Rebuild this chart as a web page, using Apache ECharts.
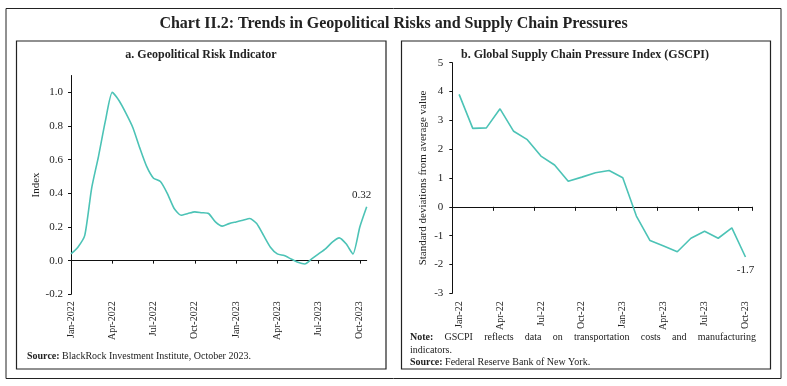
<!DOCTYPE html>
<html>
<head>
<meta charset="utf-8">
<script src="https://cdn.jsdelivr.net/npm/echarts@6/dist/echarts.min.js"></script>
<style>html,body{margin:0;padding:0;background:#fff;}#c{width:787px;height:386px;}</style>
</head>
<body>
<div id="c"></div>
<script>
// ---- Data ----
const chartTitle = 'Chart II.2: Trends in Geopolitical Risks and Supply Chain Pressures';
const titleA = 'a. Geopolitical Risk Indicator';
const titleB = 'b. Global Supply Chain Pressure Index (GSCPI)';

// Panel a: semi-monthly observations, Jan 2022 - mid Oct 2023
const griDates = [
  '2022-01-01','2022-01-16','2022-02-01','2022-02-16','2022-03-01','2022-03-16',
  '2022-04-01','2022-04-16','2022-05-01','2022-05-16','2022-06-01','2022-06-16',
  '2022-07-01','2022-07-16','2022-08-01','2022-08-16','2022-09-01','2022-09-16',
  '2022-10-01','2022-10-16','2022-11-01','2022-11-16','2022-12-01','2022-12-16',
  '2023-01-01','2023-01-16','2023-02-01','2023-02-16','2023-03-01','2023-03-16',
  '2023-04-01','2023-04-16','2023-05-01','2023-05-16','2023-06-01','2023-06-16',
  '2023-07-01','2023-07-16','2023-08-01','2023-08-16','2023-09-01','2023-09-16',
  '2023-10-01','2023-10-16'
];
const griValues = [
  0.04, 0.08, 0.15, 0.43, 0.62, 0.83,
  1.00, 0.95, 0.875, 0.79, 0.67, 0.56,
  0.49, 0.47, 0.40, 0.31, 0.27, 0.28,
  0.29, 0.285, 0.28, 0.23, 0.205, 0.22,
  0.23, 0.24, 0.25, 0.22, 0.15, 0.08,
  0.04, 0.03, 0.01, -0.01, -0.02, 0.01,
  0.04, 0.07, 0.11, 0.135, 0.10, 0.04,
  0.20, 0.32
];
const griTicks = [-0.2, 0.0, 0.2, 0.4, 0.6, 0.8, 1.0];

// Panel b: monthly GSCPI
const gscpiMonths = ['Jan-22','Feb-22','Mar-22','Apr-22','May-22','Jun-22','Jul-22','Aug-22','Sep-22','Oct-22','Nov-22','Dec-22',
  'Jan-23','Feb-23','Mar-23','Apr-23','May-23','Jun-23','Jul-23','Aug-23','Sep-23','Oct-23'];
const gscpiValues = [3.9, 2.72, 2.74, 3.40, 2.62, 2.33, 1.76, 1.45, 0.89, 1.03, 1.18, 1.26,
  1.01, -0.32, -1.17, -1.36, -1.56, -1.09, -0.85, -1.09, -0.73, -1.74];
const gscpiTicks = [-3, -2, -1, 0, 1, 2, 3, 4, 5];

const sourceA = 'BlackRock Investment Institute, October 2023.';
const noteB = 'GSCPI reflects data on transportation costs and manufacturing indicators.';
const sourceB = 'Federal Reserve Bank of New York.';

// ---- Styles ----
const FONT = 'Liberation Serif';
const LINE = '#4cc3b6';
const TXT = '#222';
const monthNames = ['Jan','Feb','Mar','Apr','May','Jun','Jul','Aug','Sep','Oct','Nov','Dec'];
function fmtDate(s){ const p = s.split('-'); return monthNames[+p[1]-1] + '-' + p[0]; }

const chart = echarts.init(document.getElementById('c'), null, {renderer:'canvas'});

// justified note line
const mctx = document.createElement('canvas').getContext('2d');
function measure(t, weight, size){ mctx.font = weight + ' ' + size + 'px "' + FONT + '"'; return mctx.measureText(t).width; }
const noteWords = ['Note:'].concat(noteB.split(' '));
const line1 = noteWords.slice(0, noteWords.length - 1);
const line2 = noteWords[noteWords.length - 1];
const nx0 = 410, nx1 = 756, nSize = 10;
const widths = line1.map((w,i)=>measure(w, i===0?'bold':'normal', nSize));
const sumW = widths.reduce((a,b)=>a+b,0);
const gap = (nx1 - nx0 - sumW) / (line1.length - 1);
const noteEls = [];
let cx = nx0;
line1.forEach((w,i)=>{
  noteEls.push({type:'text', left: cx, top: 332.5, style:{text:w, font:(i===0?'bold ':'')+nSize+'px "'+FONT+'"', fill:TXT}});
  cx += widths[i] + gap;
});
noteEls.push({type:'text', left: nx0, top: 345, style:{text:line2, font:nSize+'px "'+FONT+'"', fill:TXT}});

const axisLbl = {fontFamily: FONT, fontSize: 11, color: TXT};
const xLbl = {fontFamily: FONT, fontSize: 10, color: TXT};

const option = {
  animation: false,
  backgroundColor: '#fff',
  textStyle: {fontFamily: FONT},
  title: [
    {text: chartTitle, left: 'center', top: 11, textStyle:{fontFamily:FONT, fontSize:16, fontWeight:'bold', color:TXT}},
    {text: titleA, left: 201, top: 49, padding:0, textAlign:'center', textStyle:{fontFamily:FONT, fontSize:12, fontWeight:'bold', color:TXT}},
    {text: titleB, left: 585, top: 49, padding:0, textAlign:'center', textStyle:{fontFamily:FONT, fontSize:12, fontWeight:'bold', color:TXT}}
  ],
  graphic: [
    {type:'rect', shape:{x:6, y:8.5, width:775, height:370}, style:{fill:'none', stroke:'#222', lineWidth:1}, silent:true},
    {type:'rect', shape:{x:16.5, y:41, width:369.5, height:328}, style:{fill:'none', stroke:'#222', lineWidth:1.2}, silent:true},
    {type:'rect', shape:{x:401.5, y:41, width:369, height:328}, style:{fill:'none', stroke:'#222', lineWidth:1.2}, silent:true},
    {type:'text', left: 27, top: 351, style:{text:'{b|Source:} ' + sourceA, font:'10px "'+FONT+'"', fill:TXT,
      rich:{b:{fontWeight:'bold', fontFamily:FONT, fontSize:10, fill:TXT}}}},
    {type:'text', left: nx0, top: 357.5, style:{text:'{b|Source:} ' + sourceB, font:'10px "'+FONT+'"', fill:TXT,
      rich:{b:{fontWeight:'bold', fontFamily:FONT, fontSize:10, fill:TXT}}}}
  ].concat(noteEls),
  grid: [
    {left: 71, right: 787-366.7, top: 75.5, bottom: 386-294.3},
    {left: 452.3, right: 787-752.3, top: 62.7, bottom: 386-293.3}
  ],
  xAxis: [
    {gridIndex:0, type:'category', data: griDates, boundaryGap:false,
      axisLine:{onZero:true, lineStyle:{color:'#111', width:1}},
      axisTick:{show:true, interval:5, length:3, lineStyle:{color:'#111'}},
      axisLabel:{show:false}, splitLine:{show:false}},
    {gridIndex:0, type:'category', data: griDates, boundaryGap:false, position:'bottom',
      axisLine:{show:false, onZero:false}, axisTick:{show:false},
      axisLabel:Object.assign({interval:5, rotate:90, margin:7, formatter: fmtDate}, xLbl), splitLine:{show:false}},
    {gridIndex:1, type:'category', data: gscpiMonths, boundaryGap:true,
      axisLine:{onZero:true, lineStyle:{color:'#111', width:1}},
      axisTick:{show:true, interval:2, length:4, lineStyle:{color:'#111'}},
      axisLabel:{show:false}, splitLine:{show:false}},
    {gridIndex:1, type:'category', data: gscpiMonths, boundaryGap:true, position:'bottom',
      axisLine:{show:false, onZero:false}, axisTick:{show:false},
      axisLabel:Object.assign({interval:2, rotate:90, margin:8}, xLbl), splitLine:{show:false}}
  ],
  yAxis: [
    {gridIndex:0, type:'value', min:griTicks[0], max:1.1, interval:0.2,
      name:'Index', nameLocation:'middle', nameGap:28, nameTextStyle:{fontFamily:FONT, fontSize:11, color:TXT},
      axisLine:{show:true, lineStyle:{color:'#111'}}, axisTick:{show:true, length:3, lineStyle:{color:'#111'}},
      axisLabel:Object.assign({margin:8, showMaxLabel:false, formatter:(v)=> griTicks.some(t=>Math.abs(t-v)<1e-9) ? v.toFixed(1) : ''}, axisLbl),
      splitLine:{show:false}},
    {gridIndex:1, type:'value', min:gscpiTicks[0], max:gscpiTicks[gscpiTicks.length-1], interval:1,
      name:'Standard deviations from average value', nameLocation:'middle', nameGap:24, nameTextStyle:{fontFamily:FONT, fontSize:11, color:TXT},
      axisLine:{show:true, lineStyle:{color:'#111'}}, axisTick:{show:true, length:3, lineStyle:{color:'#111'}},
      axisLabel:Object.assign({margin:9}, axisLbl), splitLine:{show:false}}
  ],
  series: [
    {type:'line', xAxisIndex:0, yAxisIndex:0, smooth:0.2, symbol:'circle', symbolSize:0, showSymbol:true,
      lineStyle:{color:LINE, width:1.6}, itemStyle:{color:LINE},
      label:{show:false},
      data: griValues.map((v,i)=> i===griValues.length-1 ? {value:v, label:{show:true, position:'top', distance:6, offset:[-5,0], formatter:(p)=>Number(p.value).toFixed(2), fontFamily:FONT, fontSize:11, color:TXT}} : v)},
    {type:'line', xAxisIndex:2, yAxisIndex:1, symbol:'circle', symbolSize:0, showSymbol:true,
      lineStyle:{color:LINE, width:1.6}, itemStyle:{color:LINE},
      label:{show:false},
      data: gscpiValues.map((v,i)=> i===gscpiValues.length-1 ? {value:v, label:{show:true, position:'bottom', distance:8, formatter:(p)=>(Math.trunc(p.value*10)/10).toFixed(1), fontFamily:FONT, fontSize:11, color:TXT}} : v)}
  ]
};
chart.setOption(option);
</script>
</body>
</html>
